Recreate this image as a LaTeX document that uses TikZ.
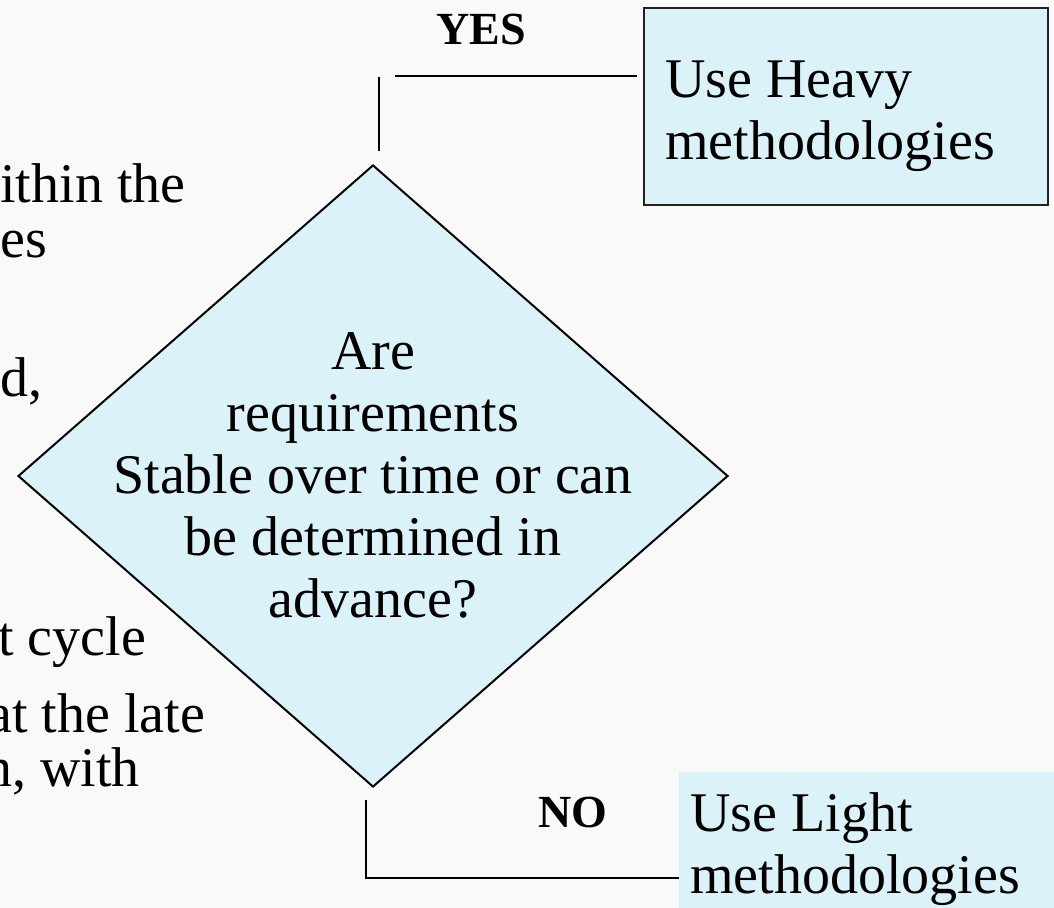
\documentclass[tikz,border=0pt]{standalone}
\usepackage{fontspec}
\setmainfont{Liberation Serif}
\usetikzlibrary{shapes.geometric,calc}
\definecolor{boxfill}{HTML}{DBF3F8}
\definecolor{bgcol}{HTML}{F9F9F9}
\definecolor{edgecol}{HTML}{222222}
\begin{document}
\begin{tikzpicture}[x=0.5pt,y=-0.5pt,
  font=\fontsize{28}{31}\selectfont,
  decision/.style={diamond, draw=black, line width=1pt, fill=boxfill, inner sep=0pt,
    minimum width=355pt, minimum height=311pt},
  heavybox/.style={draw=edgecol, line width=1pt, fill=boxfill, inner sep=0pt, anchor=north west},
  lightbox/.style={fill=boxfill, inner sep=0pt, anchor=north west},
  boxtext/.style={anchor=west, align=left, inner sep=0pt},
  answer/.style={font=\fontsize{23}{27}\bfseries\selectfont, inner sep=0pt},
  lefttext/.style={anchor=base west, inner sep=0pt},
  conn/.style={draw=black, line width=1pt}]
\useasboundingbox (0,0) rectangle (1054,908);
\fill[bgcol] (0,0) rectangle (1054,908);
\begin{scope}
\clip (0,0) rectangle (1054,908);
\node[lefttext] (l1) at (0,203) {ithin the};
\node[lefttext] (l2) at (0,258) {es};
\node[lefttext] (l3) at (0,397) {d,};
\node[lefttext] (l4) at (-2,655) {t cycle};
\node[lefttext] (l5) at (-13,732) {at the late};
\node[lefttext] (l6) at (-16,786) {n, with};
\end{scope}
% decision
\node[decision] (q) at (373,476) {};
\node[align=center, inner sep=0pt] (qt) at (373,475) {Are\\requirements\\Stable over time or can\\be determined in\\advance?};
% heavy box
\node[heavybox, minimum width=202pt, minimum height=98.5pt] (heavy) at (643,7) {};
\node[boxtext] (heavyt) at (665,116) {Use Heavy\\methodologies};
% light box
\node[lightbox, minimum width=187.5pt, minimum height=68pt] (light) at (679,772) {};
\node[boxtext] (lightt) at (690,849) {Use Light\\methodologies};
% answers
\node[answer] (yes) at (481,30) {YES};
\node[answer] (no) at (573,812) {NO};
% YES connector (broken elbow)
\coordinate (ya) at ($(q.north)+(6,-13)$);
\coordinate (yb) at (379,77);
\coordinate (yc) at (395,76);
\coordinate (yd) at ($(heavy.west |- yc)+(-6,0)$);
\draw[conn] (ya) -- (yb);
\draw[conn] (yc) -- (yd);
% NO connector
\coordinate (na) at (366,800);
\coordinate (nb) at (light.west |- 0,878);
\draw[conn] (na) |- (nb);
\end{tikzpicture}
\end{document}
